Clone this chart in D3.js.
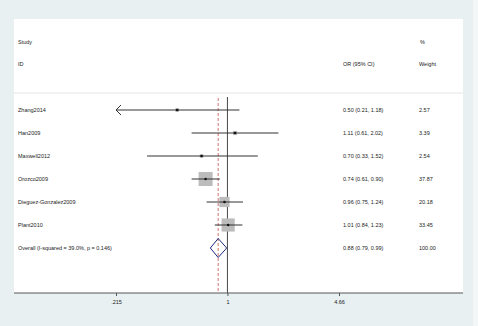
<!DOCTYPE html>
<html>
<head>
<meta charset="utf-8">
<script src="https://cdn.jsdelivr.net/npm/d3@7"></script>
<style>
  body { margin: 0; background: #f3f7f8; }
  svg { display: block; font-family: "Liberation Sans", Arial, sans-serif; }
</style>
</head>
<body>
<div id="chart"></div>
<script>
const width = 478, height = 326;

// data
const studies = ["Zhang2014", "Han2009", "Maxwell2012", "Orozco2009", "Dieguez-Gonzalez2009", "Plant2010"];
const orVals = [0.50, 1.11, 0.70, 0.74, 0.96, 1.01];
const loVals = [0.21, 0.61, 0.33, 0.61, 0.75, 0.84];
const hiVals = [1.18, 2.02, 1.52, 0.90, 1.24, 1.23];
const weights = [2.57, 3.39, 2.54, 37.87, 20.18, 33.45];
const orLabels = ["0.50 (0.21, 1.18)", "1.11 (0.61, 2.02)", "0.70 (0.33, 1.52)", "0.74 (0.61, 0.90)", "0.96 (0.75, 1.24)", "1.01 (0.84, 1.23)"];
const weightLabels = ["2.57", "3.39", "2.54", "37.87", "20.18", "33.45"];
const overallLabel = "Overall  (I-squared = 39.0%, p = 0.146)";
const overallVals = [0.88, 0.79, 0.99]; // or, lo, hi
const overallText = ["0.88 (0.79, 0.99)", "100.00"];
const tickValues = [0.215, 1, 4.66];
const tickLabels = [".215", "1", "4.66"];

var svg = d3.select("#chart")
  .append("svg")
  .attr("width", width)
  .attr("height", height);

// graph region + plot region
svg.append("rect").attr("x", 0).attr("y", 0).attr("width", 473).attr("height", height).attr("fill", "#e8f0f2");
svg.append("rect").attr("x", 14).attr("y", 19).attr("width", 449).attr("height", 274).attr("fill", "#ffffff");

var x = d3.scaleLog().domain([0.215, 4.66]).range([116, 339]);
var y = d3.scaleLinear().domain([0, 6]).range([110, 248]);
var side = d3.scaleSqrt().domain([0, d3.max(weights)]).range([0, 14]);

var txt = (sel) => sel.attr("font-size", 5.5).attr("fill", "#222");

// headers
svg.append("text").attr("x", 18).attr("y", 44).text("Study").call(txt);
svg.append("text").attr("x", 18).attr("y", 66).text("ID").call(txt);
svg.append("text").attr("x", 420).attr("y", 44).text("%").call(txt);
svg.append("text").attr("x", 343).attr("y", 66).text("OR (95% CI)").call(txt);
svg.append("text").attr("x", 419).attr("y", 66).text("Weight").call(txt);

svg.append("line").attr("x1", 14).attr("x2", 463).attr("y1", 93).attr("y2", 93)
  .attr("stroke", "#e4e4e4").attr("stroke-width", 1);

// null line and overall line
svg.append("line").attr("x1", x(1)).attr("x2", x(1)).attr("y1", 97).attr("y2", 293)
  .attr("stroke", "#333").attr("stroke-width", 0.9);
svg.append("line").attr("x1", x(overallVals[0])).attr("x2", x(overallVals[0])).attr("y1", 98).attr("y2", 293)
  .attr("stroke", "#c0504d").attr("stroke-width", 0.8).attr("stroke-dasharray", "3,2");

var rows = d3.range(studies.length);
var g = svg.append("g");

// weight squares
g.selectAll("rect.sq").data(rows).enter().append("rect")
  .attr("class", "sq")
  .attr("x", (i) => x(orVals[i]) - side(weights[i]) / 2)
  .attr("y", (i) => y(i) - side(weights[i]) / 2)
  .attr("width", (i) => side(weights[i]))
  .attr("height", (i) => side(weights[i]))
  .attr("fill", "#bcbcbc");

// CI lines, clipped at the axis minimum
var xmin = x.domain()[0];
g.selectAll("line.ci").data(rows).enter().append("line")
  .attr("class", "ci")
  .attr("x1", (i) => x(Math.max(loVals[i], xmin)))
  .attr("x2", (i) => x(hiVals[i]))
  .attr("y1", (i) => y(i)).attr("y2", (i) => y(i))
  .attr("stroke", "#333").attr("stroke-width", 1);

// arrows for clipped intervals
g.selectAll("path.arrow").data(rows.filter((i) => loVals[i] < xmin)).enter().append("path")
  .attr("class", "arrow")
  .attr("d", (i) => {
    var x0 = x(xmin), y0 = y(i);
    return "M" + (x0 + 5) + "," + (y0 - 5) + "L" + x0 + "," + y0 + "L" + (x0 + 5) + "," + (y0 + 5);
  })
  .attr("fill", "none").attr("stroke", "#333").attr("stroke-width", 1);

// point estimates
g.selectAll("circle.pt").data(rows).enter().append("circle")
  .attr("class", "pt")
  .attr("cx", (i) => x(orVals[i]))
  .attr("cy", (i) => y(i))
  .attr("r", 1.3)
  .attr("fill", "#111");

// labels
g.selectAll("text.study").data(rows).enter().append("text")
  .attr("x", 18).attr("y", (i) => y(i) + 2).text((i) => studies[i]).call(txt);
g.selectAll("text.or").data(rows).enter().append("text")
  .attr("x", 343).attr("y", (i) => y(i) + 2).text((i) => orLabels[i]).call(txt);
g.selectAll("text.wt").data(rows).enter().append("text")
  .attr("x", 419).attr("y", (i) => y(i) + 2).text((i) => weightLabels[i]).call(txt);

// overall diamond
var yo = y(6);
svg.append("path")
  .attr("d", "M" + x(overallVals[1]) + "," + yo + "L" + x(overallVals[0]) + "," + (yo - 9.5) +
    "L" + x(overallVals[2]) + "," + yo + "L" + x(overallVals[0]) + "," + (yo + 9.5) + "Z")
  .attr("fill", "none").attr("stroke", "#1f2a80").attr("stroke-width", 1);
svg.append("text").attr("x", 18).attr("y", yo + 2).text(overallLabel).call(txt);
svg.append("text").attr("x", 343).attr("y", yo + 2).text(overallText[0]).call(txt);
svg.append("text").attr("x", 419).attr("y", yo + 2).text(overallText[1]).call(txt);

// x axis
svg.append("line").attr("x1", 14).attr("x2", 463).attr("y1", 293).attr("y2", 293)
  .attr("stroke", "#555").attr("stroke-width", 1);
var axis = svg.append("g")
  .attr("transform", "translate(0,293)")
  .call(d3.axisBottom(x).tickValues(tickValues).tickFormat((d, i) => tickLabels[i]).tickSize(3));
axis.select(".domain").remove();
axis.selectAll(".tick line").attr("stroke", "#555");
axis.selectAll(".tick text").attr("font-size", 5.5).attr("fill", "#222").attr("dy", "0.9em")
  .attr("font-family", "Liberation Sans, Arial, sans-serif");
</script>
</body>
</html>
